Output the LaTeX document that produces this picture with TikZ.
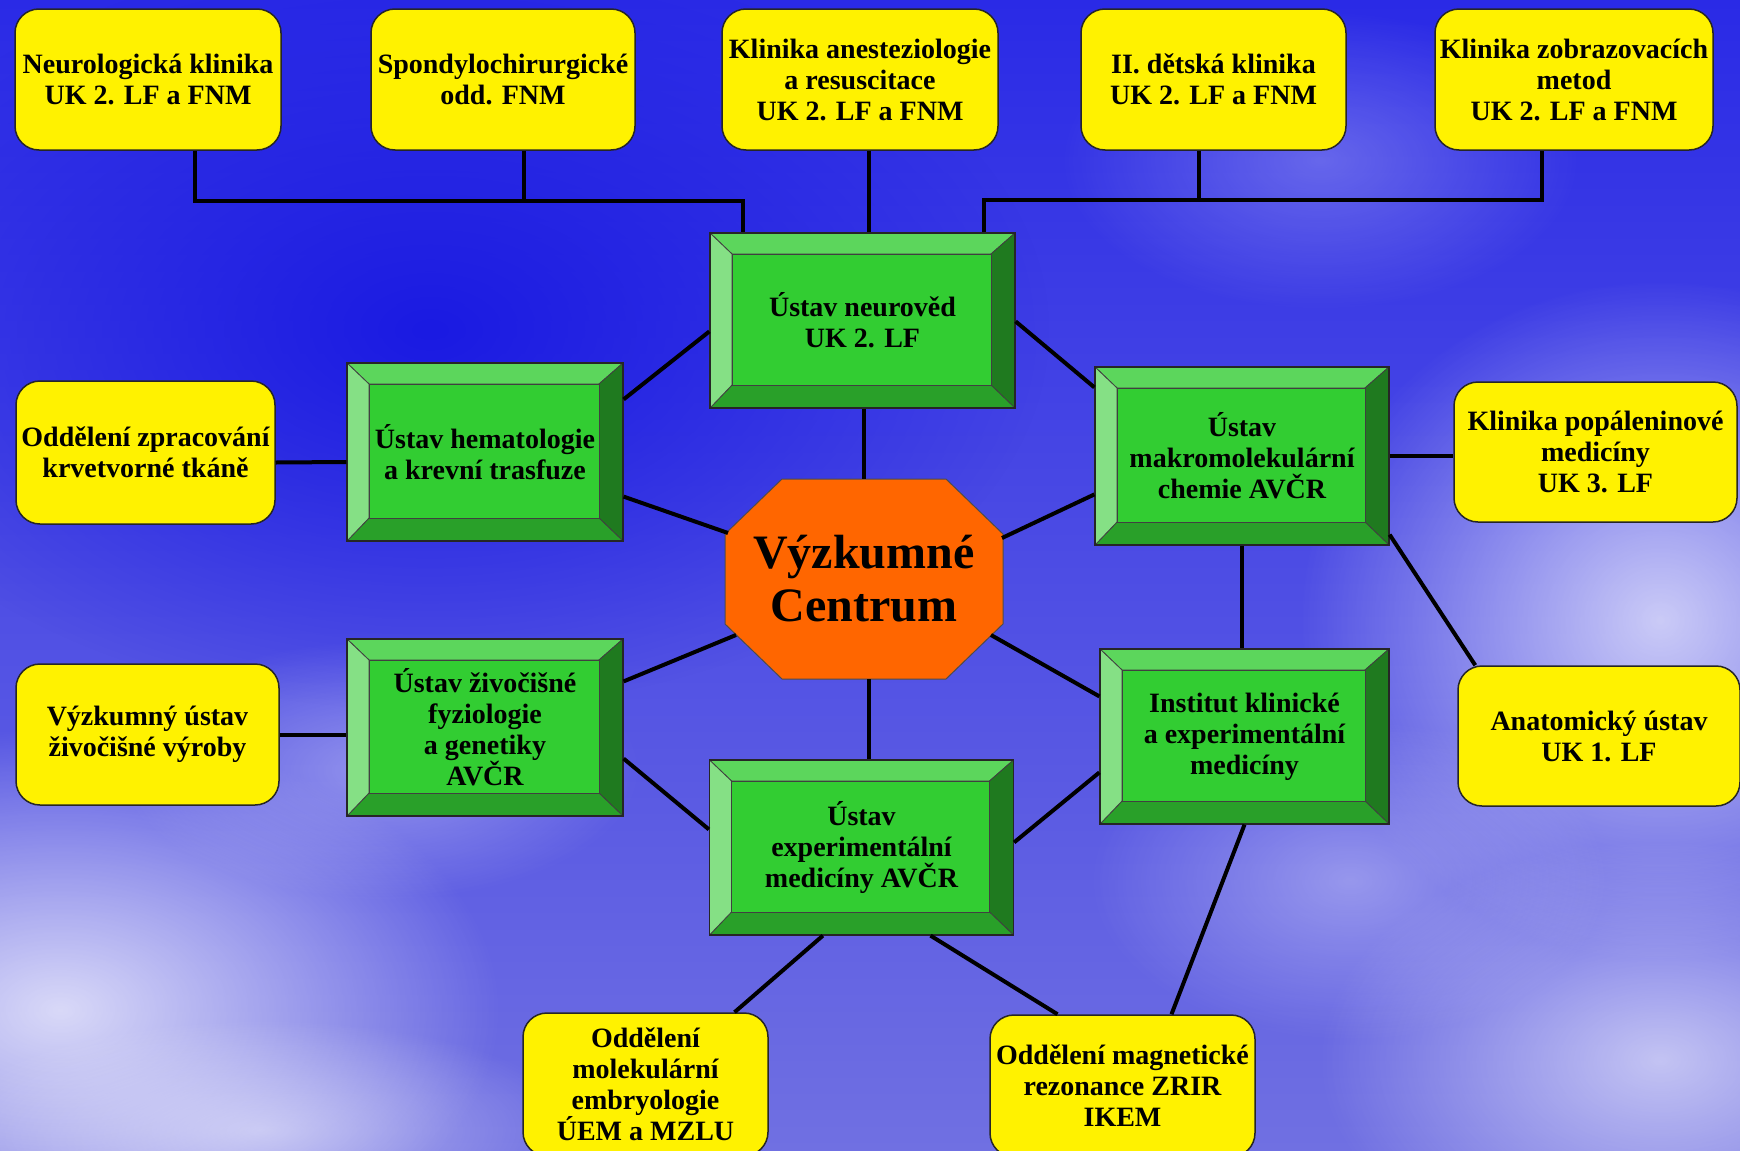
\documentclass[tikz,border=0pt]{standalone}
\usepackage{fontspec}
\setmainfont{Liberation Serif}
\usepackage{tikz}
\usetikzlibrary{calc,fadings}
\definecolor{bgtop}{RGB}{42,42,230}
\definecolor{bgbot}{RGB}{112,112,226}
\definecolor{bgdeep}{RGB}{26,26,226}
\definecolor{gmid}{RGB}{50,205,50}
\definecolor{gtop}{RGB}{92,214,92}
\definecolor{gleft}{RGB}{133,224,133}
\definecolor{gright}{RGB}{31,122,31}
\definecolor{gbot}{RGB}{41,160,41}
\definecolor{vcorange}{RGB}{255,102,0}
\tikzfading[name=soft, inner color=transparent!0, outer color=transparent!100]

\begin{document}
\begin{tikzpicture}[x=1pt, y=-1pt, every node/.style={font=\fontsize{28}{31}\selectfont\bfseries},
  yb/.style={draw=black!85, line width=1.5pt, fill=yellow, rounded corners=24pt, align=center, inner sep=1pt},
  gb/.style={rectangle, draw=black!85, line width=1.2pt, fill=gmid, align=center, inner sep=0pt,
    path picture={
      \coordinate (a1) at (path picture bounding box.north west);
      \coordinate (a2) at (path picture bounding box.north east);
      \coordinate (a3) at (path picture bounding box.south east);
      \coordinate (a4) at (path picture bounding box.south west);
      \coordinate (b1) at ($(a1)+(22pt,-21pt)$);
      \coordinate (b2) at ($(a2)+(-24pt,-21pt)$);
      \coordinate (b3) at ($(a3)+(-24pt,23pt)$);
      \coordinate (b4) at ($(a4)+(22pt,23pt)$);
      \filldraw[fill=gtop, draw=black!75, line width=0.8pt] (a1) -- (a2) -- (b2) -- (b1) -- cycle;
      \filldraw[fill=gright, draw=black!75, line width=0.8pt] (a2) -- (a3) -- (b3) -- (b2) -- cycle;
      \filldraw[fill=gbot, draw=black!75, line width=0.8pt] (a4) -- (a3) -- (b3) -- (b4) -- cycle;
      \filldraw[fill=gleft, draw=black!75, line width=0.8pt] (a1) -- (a4) -- (b4) -- (b1) -- cycle;
      \filldraw[fill=gmid, draw=black!75, line width=0.8pt] (b1) -- (b2) -- (b3) -- (b4) -- cycle;
    }},
  ln/.style={line width=4pt, black}]

\clip (0,0) rectangle (1740,1151);
\fill[top color=bgtop, bottom color=bgbot] (0,0) rectangle (1740,1151);
\fill[bgdeep, path fading=soft] (430,330) ellipse (620 and 380);
\fill[white, opacity=0.75, path fading=soft] (60,1010) ellipse (440 and 280);
\fill[white, opacity=0.7, path fading=soft] (1660,620) ellipse (360 and 340);
\fill[white, opacity=0.6, path fading=soft] (1660,1060) ellipse (340 and 220);
\fill[white, opacity=0.35, path fading=soft] (1350,880) ellipse (260 and 160);
\fill[white, opacity=0.35, path fading=soft] (380,770) ellipse (260 and 130);
\fill[white, opacity=0.5, path fading=soft] (260,1130) ellipse (320 and 110);
\fill[white, opacity=0.25, path fading=soft] (1320,160) ellipse (260 and 150);

\node[yb, minimum width=266pt, minimum height=141pt] (neuro) at (148,79.5) {Neurologická klinika\\UK 2. LF a FNM};
\node[yb, minimum width=264pt, minimum height=141pt] (spondy) at (503,79.5) {Spondylochirurgické\\odd. FNM};
\node[yb, minimum width=276pt, minimum height=141pt] (anest) at (860,79.5) {Klinika anesteziologie\\a resuscitace\\UK 2. LF a FNM};
\node[yb, minimum width=265pt, minimum height=141pt] (detska) at (1213.5,79.5) {II. dětská klinika\\UK 2. LF a FNM};
\node[yb, minimum width=278pt, minimum height=141pt] (zobraz) at (1574,79.5) {Klinika zobrazovacích\\metod\\UK 2. LF a FNM};
\node[yb, minimum width=259pt, minimum height=143pt] (zprac) at (145.5,452.5) {Oddělení zpracování\\krvetvorné tkáně};
\node[yb, minimum width=263pt, minimum height=141pt] (vuzv) at (147.5,734.5) {Výzkumný ústav\\živočišné výroby};
\node[yb, minimum width=283pt, minimum height=140pt] (popal) at (1595.5,452) {Klinika popáleninové\\medicíny\\UK 3. LF};
\node[yb, minimum width=282pt, minimum height=140pt] (anat) at (1599,736) {Anatomický ústav\\UK 1. LF};
\node[yb, minimum width=245pt, minimum height=143pt] (molek) at (645.5,1084.5) {Oddělení\\molekulární\\embryologie\\ÚEM a MZLU};
\node[yb, minimum width=265pt, minimum height=142pt] (magnet) at (1122.5,1086) {Oddělení magnetické\\rezonance ZRIR\\IKEM};

\node[gb, minimum width=305pt, minimum height=175pt] (neurov) at (862.5,320.5) {Ústav neurověd\\UK 2. LF};
\node[gb, minimum width=276pt, minimum height=178pt] (hemat) at (485,452) {Ústav hematologie\\a krevní trasfuze};
\node[gb, minimum width=294pt, minimum height=178pt] (makro) at (1242,456) {Ústav\\makromolekulární\\chemie AVČR};
\node[gb, minimum width=276pt, minimum height=177pt] (zivoc) at (485,727.5) {Ústav živočišné\\fyziologie\\a genetiky\\AVČR};
\node[gb, minimum width=289pt, minimum height=175pt] (instit) at (1244.5,736.5) {Institut klinické\\a experimentální\\medicíny};
\node[gb, minimum width=304pt, minimum height=175pt] (exper) at (861.5,847.5) {Ústav\\experimentální\\medicíny AVČR};

\coordinate (vcc) at (864,579);
\filldraw[fill=vcorange, draw=black!70, line width=1pt] ($(vcc)+(-139,-45)$) -- ($(vcc)+(-82,-100)$) -- ($(vcc)+(82,-100)$) -- ($(vcc)+(139,-45)$)
  -- ($(vcc)+(139,45)$) -- ($(vcc)+(82,100)$) -- ($(vcc)+(-82,100)$) -- ($(vcc)+(-139,45)$) -- cycle;
\node[font=\fontsize{48}{53}\selectfont\bfseries, minimum width=278pt, minimum height=200pt, align=center, inner sep=0pt] (vc) at (vcc) {Výzkumné\\Centrum};

\draw[ln] ($(neuro.south)+(47,0)$) -- ++(0,50) -| ($(neurov.north west)+(34,0)$);
\draw[ln] ($(spondy.south)+(21,0)$) -- ++(0,50);
\draw[ln] ($(anest.south)+(9,0)$) -- ($(neurov.north)+(6.5,0)$);
\draw[ln] ($(neurov.north east)+(-32,0)$) -- ++(0,-32) -| ($(zobraz.south)+(-32,0)$);
\draw[ln] ($(detska.south)+(-15,0)$) -- ++(0,50);
\draw[ln] (vc.north |- neurov.south) -- (vc.north);
\draw[ln] ($(vc.south)+(5,0)$) -- ($(exper.north)+(7.5,0)$);
\draw[ln] ($(zprac.east)+(0,10)$) -- ($(hemat.west)+(0,10)$);
\draw[ln] (vuzv.east) -- (vuzv.east -| zivoc.west);
\draw[ln] ($(hemat.north east)+(0,37)$) -- ($(neurov.north west)+(0,99)$);
\draw[ln] ($(hemat.south east)+(0,-45)$) -- ($(vc.center)+(-136,-46)$);
\draw[ln] ($(zivoc.north east)+(0,43)$) -- ($(vc.center)+(-128,56)$);
\draw[ln] ($(zivoc.south east)+(0,-58)$) -- ($(exper.north west)+(0,70)$);
\draw[ln] ($(neurov.north east)+(0,89)$) -- ($(makro.north west)+(0,21)$);
\draw[ln] ($(vc.center)+(138,-41)$) -- ($(makro.north west)+(0,128)$);
\draw[ln] (makro.east) -- (makro.east -| popal.west);
\draw[ln] (makro.south) -- (makro.south |- instit.north);
\draw[ln] ($(makro.south east)+(0,-11)$) -- ($(anat.north west)+(18,0)$);
\draw[ln] ($(vc.center)+(127,56)$) -- ($(instit.north west)+(0,48)$);
\draw[ln] ($(instit.north west)+(0,124)$) -- ($(exper.north east)+(0,83)$);
\draw[ln] ($(exper.south west)+(114,0)$) -- ($(molek.north)+(89,0)$);
\draw[ln] ($(exper.south)+(69,0)$) -- ($(magnet.north)+(-65,0)$);
\draw[ln] (instit.south) -- ($(magnet.north)+(49,0)$);
\end{tikzpicture}
\end{document}
